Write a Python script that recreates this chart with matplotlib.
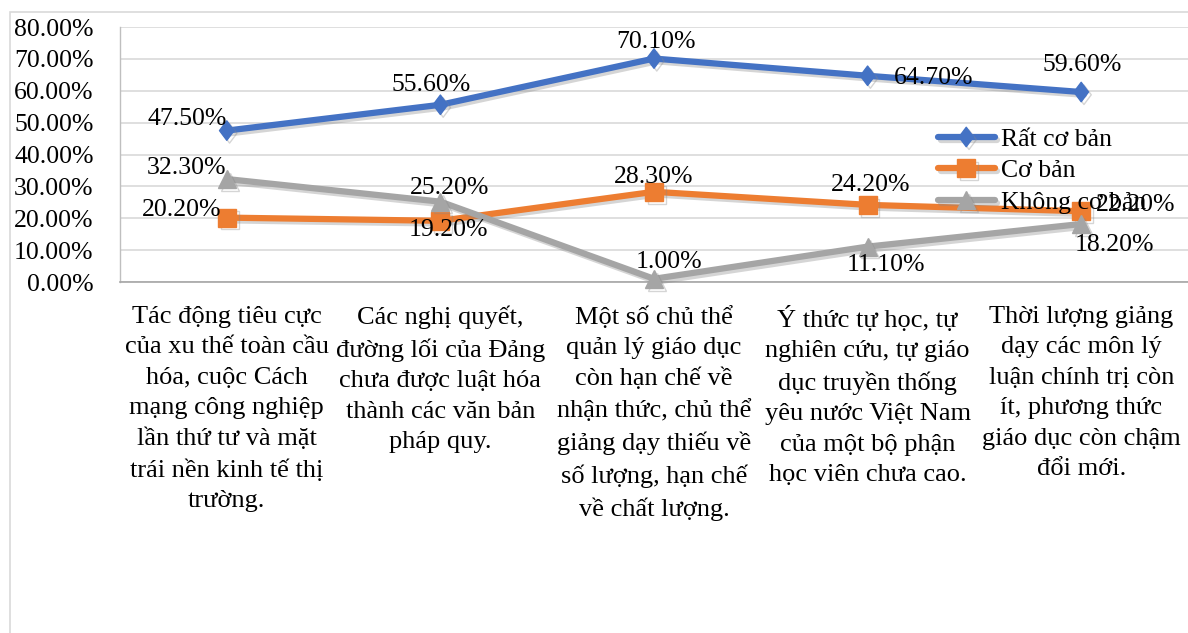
import matplotlib
matplotlib.use("Agg")
import matplotlib.pyplot as plt
import matplotlib.patheffects as pe
from matplotlib.path import Path
from matplotlib.patches import Rectangle
from matplotlib.ticker import FuncFormatter

plt.rcParams['font.family'] = ['Liberation Serif', 'DejaVu Serif']

categories = [
    "Tác động tiêu cực\ncủa xu thế toàn cầu\nhóa, cuộc Cách\nmạng công nghiệp\nlần thứ tư và mặt\ntrái nền kinh tế thị\ntrường.",
    "Các nghị quyết,\nđường lối của Đảng\nchưa được luật hóa\nthành các văn bản\npháp quy.",
    "Một số chủ thể\nquản lý giáo dục\ncòn hạn chế về\nnhận thức, chủ thể\ngiảng dạy thiếu về\nsố lượng, hạn chế\nvề chất lượng.",
    "Ý thức tự học, tự\nnghiên cứu, tự giáo\ndục truyền thống\nyêu nước Việt Nam\ncủa một bộ phận\nhọc viên chưa cao.",
    "Thời lượng giảng\ndạy các môn lý\nluận chính trị còn\nít, phương thức\ngiáo dục còn chậm\nđổi mới.",
]
series_names = ["Rất cơ bản", "Cơ bản", "Không cơ bản"]
rat_co_ban = [47.5, 55.6, 70.1, 64.7, 59.6]
co_ban = [20.2, 19.2, 28.3, 24.2, 22.2]
khong_co_ban = [32.3, 25.2, 1.0, 11.1, 18.2]
y_ticks = [0, 10, 20, 30, 40, 50, 60, 70, 80]

colors = ["#4472C4", "#ED7D31", "#A5A5A5"]
diamond = Path([(0, 1), (0.75, 0), (0, -1), (-0.75, 0), (0, 1)],
               [Path.MOVETO, Path.LINETO, Path.LINETO, Path.LINETO, Path.CLOSEPOLY])
markers = [diamond, 's', '^']
msizes = [14, 13, 13]

# label offsets in pixels (dx, dy)
label_offsets = [
    [(-40, 12), (-9, 20), (2, 17), (66, -2), (1, 27)],
    [(-45, 8), (8, -9), (0, 15), (3, 20), (54, 6)],
    [(-40, 11), (9, 14), (15, 17), (18, -18), (33, -21)],
]

W, H = 1188, 633
fig = plt.figure(figsize=(W / 100, H / 100), dpi=100)
fig.patch.set_facecolor("white")
fig.add_artist(Rectangle((10 / W, -0.1), 1.2, (H - 12) / H + 0.1,
                         transform=fig.transFigure, fill=False,
                         edgecolor="#d9d9d9", linewidth=1.2))

left, right, bottom, top = 120, 1188, 282, 27
ax = fig.add_axes([left / W, (H - bottom) / H, (right - left) / W, (bottom - top) / H])
ax.set_xlim(-0.5, 4.5)
ax.set_ylim(0, 80)
ax.set_yticks(y_ticks)
ax.yaxis.set_major_formatter(FuncFormatter(lambda v, p: f"{v:.2f}%"))
ax.grid(axis='y', color="#d9d9d9", linewidth=1.2)
ax.set_axisbelow(True)
for s in ['top', 'right']:
    ax.spines[s].set_visible(False)
ax.spines['left'].set_color("#bfbfbf")
ax.spines['bottom'].set_color("#a6a6a6")
ax.spines['left'].set_linewidth(1.0)
ax.spines['bottom'].set_linewidth(1.2)
ax.tick_params(axis='y', length=0, pad=19, labelsize=18.5)
ax.tick_params(axis='x', length=0, pad=17, labelsize=19)
ax.set_xticks(range(len(categories)))
ax.set_xticklabels(categories, linespacing=1.50, ha='center', va='top')

xs = list(range(len(categories)))
all_series = [rat_co_ban, co_ban, khong_co_ban]
handles = []
for i, vals in enumerate(all_series):
    ln, = ax.plot(xs, vals, color=colors[i], linewidth=4.5, marker=markers[i],
                  markersize=msizes[i], markerfacecolor=colors[i],
                  markeredgecolor=colors[i], label=series_names[i], zorder=3 + i * 0.1,
                  solid_capstyle='round', solid_joinstyle='round',
                  path_effects=[pe.SimpleLineShadow(offset=(2, -2), shadow_color='#888888', alpha=0.35),
                                pe.Normal()])
    ln.set_clip_on(False)
    handles.append(ln)

for i, vals in enumerate(all_series):
    for j, v in enumerate(vals):
        dx, dy = label_offsets[i][j]
        ax.annotate(f"{v:.2f}%", (xs[j], v), xytext=(dx, dy), textcoords='offset pixels',
                    ha='center', va='center', fontsize=18.5, color='black', zorder=10)

leg = fig.legend(handles=handles, labels=series_names, loc='upper left',
                 bbox_to_anchor=(938 / W, 1 - 128 / H), bbox_transform=fig.transFigure,
                 frameon=False, fontsize=18.5, handlelength=2.2, handletextpad=0.25,
                 labelspacing=0.33, borderpad=0, borderaxespad=0)
leg.set_zorder(20)

fig.savefig("out.png", dpi=100)
